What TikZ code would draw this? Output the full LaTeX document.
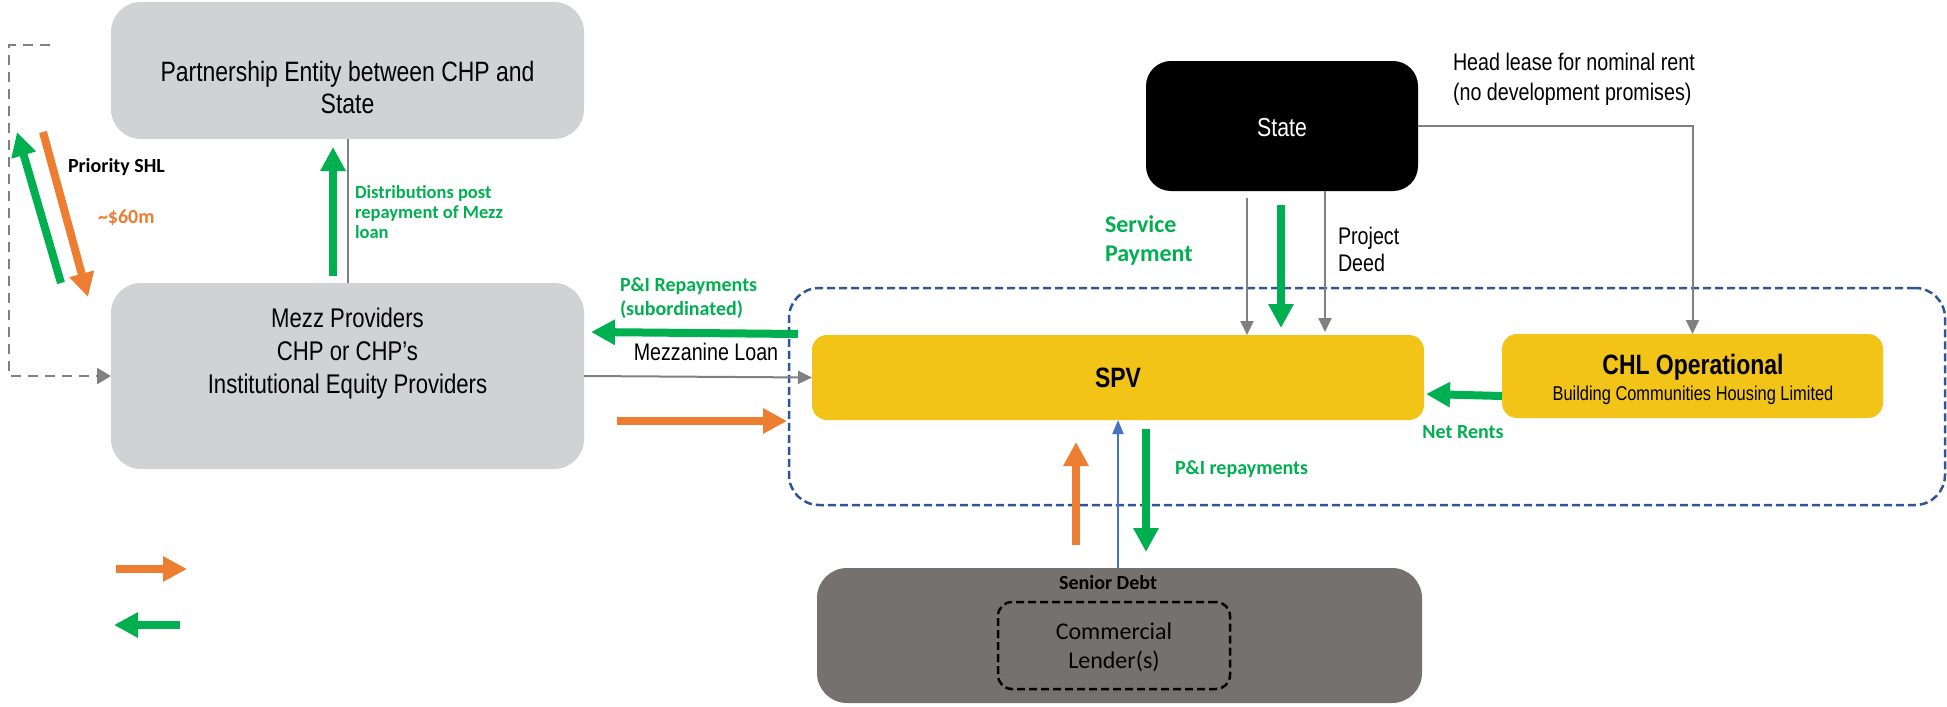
\documentclass[tikz,border=0pt]{standalone}
\usepackage{fontspec}
\setmainfont{Liberation Sans}
\newfontfamily\narrowfont[FakeStretch=0.82]{Liberation Sans}
\newfontfamily\calfont{Carlito}
\usetikzlibrary{arrows.meta}
\definecolor{boxgrey}{RGB}{209,210,212}
\definecolor{boxyellow}{RGB}{242,196,24}
\definecolor{darkbox}{RGB}{118,113,113}
\definecolor{mygreen}{RGB}{0,176,80}
\definecolor{myorange}{RGB}{237,125,49}
\definecolor{dashblue}{RGB}{47,85,151}
\definecolor{lineblue}{RGB}{68,114,196}
\definecolor{lgrey}{RGB}{128,128,128}
\newcommand{\setfs}[2]{\fontsize{#1}{#2}\selectfont}
\tikzset{
  boxshape/.style={rectangle, inner sep=0pt, outer sep=0pt, draw=none},
  greybox/.style={boxshape, fill=boxgrey, rounded corners=30pt},
  yellowbox/.style={boxshape, fill=boxyellow, rounded corners=15pt},
  txt/.style={inner sep=0pt, outer sep=0pt},
  boxtext/.style={txt, font=\narrowfont\setfs{27}{33}, align=center},
  plaintext/.style={txt, font=\narrowfont\setfs{24}{29}, align=left},
  greenlbl/.style={txt, font=\calfont\bfseries\setfs{20}{24}, text=mygreen, align=left},
  thickarrow/.style={line width=8pt, -{Triangle[width=24pt,length=24pt]}},
  greyarrow/.style={draw=lgrey, line width=2pt, -{Triangle[width=13pt,length=14pt]}},
}
\begin{document}
\begin{tikzpicture}[x=1pt,y=-1pt]
\useasboundingbox (0,0) rectangle (1947,707);

% container
\node[boxshape, draw=dashblue, line width=2.5pt, dash pattern=on 8pt off 4pt, rounded corners=30pt, minimum width=1156pt, minimum height=217pt] (spvgroup) at (1367,396.5) {};

% boxes
\node[greybox, minimum width=473pt, minimum height=137pt] (part) at (347.5,70.5) {};
\node[boxtext, font=\narrowfont\setfs{28}{32}] (parttxt) at (347.5,87) {Partnership Entity between CHP and\\State};

\node[greybox, minimum width=473pt, minimum height=186pt] (mezz) at (347.5,376) {};
\node[boxtext] (mezztxt) at (347.5,354) {Mezz Providers\\CHP or CHP’s\\Institutional Equity Providers};

\node[boxshape, fill=black, rounded corners=25pt, minimum width=272pt, minimum height=130pt] (state) at (1282,126) {};
\node[boxtext, text=white, font=\narrowfont\setfs{26}{30}] (statetxt) at (1282,128) {State};

\node[yellowbox, minimum width=612pt, minimum height=85pt] (spv) at (1118,377.5) {};
\node[txt, font=\narrowfont\bfseries\setfs{28}{32}] (spvtxt) at (1118,378) {SPV};

\node[yellowbox, minimum width=381pt, minimum height=84pt] (chl) at (1692.5,376) {};
\node[txt, font=\narrowfont\bfseries\setfs{28}{32}] (chltxt) at (1693,367) {CHL Operational};
\node[txt, font=\narrowfont\setfs{20}{24}] (chlsub) at (1693,395) {Building Communities Housing Limited};

\node[boxshape, fill=darkbox, rounded corners=30pt, minimum width=605pt, minimum height=135pt] (senior) at (1119.5,635.5) {};
\node[txt, font=\calfont\bfseries\setfs{20}{24}] (seniortxt) at (1108,583) {Senior Debt};
\node[boxshape, draw=black, line width=2.5pt, dash pattern=on 8pt off 4pt, rounded corners=14pt, minimum width=232pt, minimum height=87pt] (lender) at (1114,645.5) {};
\node[txt, font=\calfont\setfs{24}{29}, align=center] (lendertxt) at (1114,647.5) {Commercial\\Lender(s)};

% labels
\node[txt, font=\calfont\bfseries\setfs{20}{24}, anchor=west] (prio) at (68,167) {Priority SHL};
\node[txt, font=\calfont\bfseries\setfs{20}{24}, text=myorange, anchor=west] (sixty) at (98,218) {\textasciitilde\$60m};
\node[greenlbl, font=\calfont\bfseries\setfs{18.5}{20}, anchor=west] (distlbl) at (355,212) {Distributions post\\repayment of Mezz\\loan};
\node[greenlbl, anchor=west] (pilbl) at (620,298) {P\&I Repayments\\(subordinated)};
\node[plaintext, anchor=center] (mezzloan) at (706,352) {Mezzanine Loan};
\node[greenlbl, font=\calfont\bfseries\setfs{24}{29}, anchor=west] (servlbl) at (1105,240.5) {Service\\Payment};
\node[plaintext, font=\narrowfont\setfs{24}{27}, anchor=west] (deedlbl) at (1338,249.5) {Project\\Deed};
\node[plaintext, font=\narrowfont\setfs{24}{30}, anchor=west] (leaselbl) at (1453,79) {Head lease for nominal rent\\(no development promises)};
\node[greenlbl, anchor=center] (netrents) at (1463,432) {Net Rents};
\node[greenlbl, anchor=west] (pirepay) at (1175,469) {P\&I repayments};

% coordinates
\coordinate (shlGa) at (61,283); \coordinate (shlGb) at (17,132);
\coordinate (shlOa) at (43,132); \coordinate (shlOb) at (88,297);
\coordinate (dashA) at (50,45); \coordinate (dashB) at (9,45); \coordinate (dashC) at (9,376);
\coordinate (distA) at (333,276); \coordinate (distB) at (333,147);
\coordinate (pmx) at (348,0);
\coordinate (piA) at (798,334); \coordinate (piB) at (591,332);
\coordinate (orA) at (617,421); \coordinate (orB) at (787,421);
\coordinate (sx1) at (1247,0); \coordinate (sx1top) at (1247,198);
\coordinate (sgA) at (1281,205); \coordinate (sgB) at (1281,328);
\coordinate (sx2) at (1325,0); \coordinate (sx2tip) at (1325,332);
\coordinate (nrA) at (1502,396); \coordinate (nrB) at (1426,394);
\coordinate (bx) at (1118,0);
\coordinate (ouA) at (1076,545); \coordinate (ouB) at (1076,442);
\coordinate (gdA) at (1146,429); \coordinate (gdB) at (1146,552);
\coordinate (legOa) at (116,569); \coordinate (legOb) at (187,569);
\coordinate (legGa) at (180,625); \coordinate (legGb) at (114,625);

% connectors
\draw[draw=lgrey, line width=2.5pt, dash pattern=on 10pt off 7pt, -{Triangle[width=16pt,length=14pt]}] (dashA) -- (dashB) -- (dashC) -- (mezz.west);
\draw[thickarrow, draw=mygreen] (shlGa) -- (shlGb);
\draw[thickarrow, draw=myorange] (shlOa) -- (shlOb);
\draw[thickarrow, draw=mygreen] (distA) -- (distB);
\draw[draw=lgrey, line width=2pt] (part.south -| pmx) -- (mezz.north -| pmx);
\draw[thickarrow, draw=mygreen] (piA) -- (piB);
\draw[greyarrow] (mezz.east) -- (spv.west);
\draw[thickarrow, draw=myorange] (orA) -- (orB);
\draw[greyarrow] (sx1top) -- (spv.north -| sx1);
\draw[thickarrow, draw=mygreen] (sgA) -- (sgB);
\draw[greyarrow] (state.south -| sx2) -- (sx2tip);
\draw[greyarrow] (state.east) -| (chl.north);
\draw[thickarrow, draw=mygreen] (nrA) -- (nrB);
\draw[draw=lineblue, line width=2pt, -{Triangle[width=11pt,length=14pt]}] (senior.north -| bx) -- (spv.south -| bx);
\draw[thickarrow, draw=myorange] (ouA) -- (ouB);
\draw[thickarrow, draw=mygreen] (gdA) -- (gdB);
\draw[thickarrow, draw=myorange] (legOa) -- (legOb);
\draw[thickarrow, draw=mygreen] (legGa) -- (legGb);
\end{tikzpicture}
\end{document}
